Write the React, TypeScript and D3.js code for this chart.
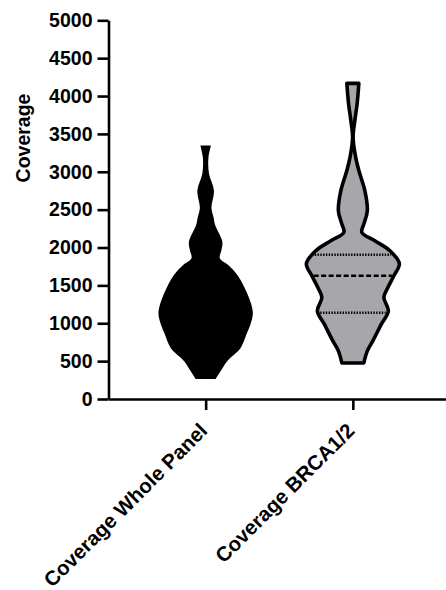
import React, { useEffect, useRef } from 'react'
import * as d3 from 'd3'

// categories on the x axis
const categories = ['Coverage Whole Panel', 'Coverage BRCA1/2']

// violin outlines: [coverage, relative density]
const wholePanelDensity: [number, number][] = [
  [3347, 0.106],
  [3188, 0.056],
  [2976, 0.066],
  [2751, 0.166],
  [2526, 0.116],
  [2394, 0.16],
  [2297, 0.19],
  [2077, 0.334],
  [1967, 0.316],
  [1858, 0.284],
  [1769, 0.45],
  [1637, 0.634],
  [1417, 0.816],
  [1241, 0.916],
  [1124, 0.944],
  [992, 0.9],
  [860, 0.82],
  [675, 0.7],
  [503, 0.434],
  [370, 0.3],
  [265, 0.2],
]

const brcaDensity: [number, number][] = [
  [4167, 0.12],
  [3900, 0.086],
  [3677, 0.04],
  [3452, 0.005],
  [3200, 0.054],
  [3016, 0.12],
  [2751, 0.24],
  [2487, 0.29],
  [2328, 0.23],
  [2200, 0.18],
  [2090, 0.44],
  [1958, 0.74],
  [1786, 0.93],
  [1627, 0.82],
  [1472, 0.7],
  [1340, 0.62],
  [1164, 0.71],
  [988, 0.57],
  [767, 0.4],
  [635, 0.29],
  [476, 0.22],
]

// Q1, median, Q3 of BRCA1/2 coverage
const brcaQuartiles = [1138, 1627, 1905]

const yTicks = [0, 500, 1000, 1500, 2000, 2500, 3000, 3500, 4000, 4500, 5000]

const FONT = '"Liberation Sans", Arial, sans-serif'

const App = () => {
  const refSvg = useRef<SVGSVGElement>(null)

  useEffect(() => {
    const svg = d3.select(refSvg.current)
    svg.selectAll('*').remove()

    const y = d3.scaleLinear().domain([0, 5000]).range([399, 20.3])
    const x = d3.scalePoint<string>().domain(categories).range([108.5, 450]).padding(0.66)
    const w = d3.scaleLinear().domain([0, 1]).range([0, 50])

    const violin = (cx: number) =>
      d3
        .area<[number, number]>()
        .y((d) => y(d[0]))
        .x0((d) => cx - w(d[1]))
        .x1((d) => cx + w(d[1]))
        .curve(d3.curveCatmullRom.alpha(0.5))

    // whole panel violin
    const cx1 = x(categories[0]) as number
    svg.append('path').attr('d', violin(cx1)(wholePanelDensity)).attr('fill', '#000')

    // BRCA violin
    const cx2 = x(categories[1]) as number
    svg
      .append('path')
      .attr('d', violin(cx2)(brcaDensity))
      .attr('fill', '#a6a6ab')
      .attr('stroke', '#000')
      .attr('stroke-width', 3.6)
      .attr('stroke-linejoin', 'round')

    const halfAt = d3
      .scaleLinear()
      .domain(brcaDensity.map((d) => d[0]))
      .range(brcaDensity.map((d) => d[1]))

    brcaQuartiles.forEach((q, i) => {
      const hw = w(halfAt(q)) - 1.8
      svg
        .append('line')
        .attr('x1', cx2 - hw)
        .attr('x2', cx2 + hw)
        .attr('y1', y(q))
        .attr('y2', y(q))
        .attr('stroke', '#000')
        .attr('stroke-width', 2.4)
        .attr('stroke-dasharray', i === 1 ? '5 2.5' : '1.4 1.4')
    })

    // y axis
    const gy = svg
      .append('g')
      .attr('transform', 'translate(108.5,0)')
      .call(d3.axisLeft(y).tickValues(yTicks).tickSize(11).tickSizeOuter(0).tickPadding(5).tickFormat(d3.format('d')))
    gy.selectAll('path, line').attr('stroke', '#000').attr('stroke-width', 2.6)
    gy.selectAll('text')
      .attr('fill', '#000')
      .style('font-family', FONT)
      .style('font-size', '19.5px')
      .style('font-weight', 'bold')

    // x axis
    const gx = svg
      .append('g')
      .attr('transform', `translate(0,${y(0)})`)
      .call(d3.axisBottom(x).tickSize(11).tickSizeOuter(0))
    gx.selectAll('path, line').attr('stroke', '#000').attr('stroke-width', 2.6)
    gx.selectAll('text').remove()

    svg
      .append('g')
      .selectAll('text')
      .data(categories)
      .join('text')
      .attr('transform', (d) => `translate(${(x(d) as number) + 3},432) rotate(-45)`)
      .attr('text-anchor', 'end')
      .style('font-family', FONT)
      .style('font-size', '20.5px')
      .style('font-weight', 'bold')
      .text((d) => d)

    // y axis title
    svg
      .append('text')
      .attr('transform', 'translate(30,138) rotate(-90)')
      .attr('text-anchor', 'middle')
      .style('font-family', FONT)
      .style('font-size', '19.5px')
      .style('font-weight', 'bold')
      .text('Coverage')
  }, [])

  return <svg ref={refSvg} width={446} height={590} style={{ position: 'absolute', left: 0, top: 0, background: '#fff' }} />
}

export default App
